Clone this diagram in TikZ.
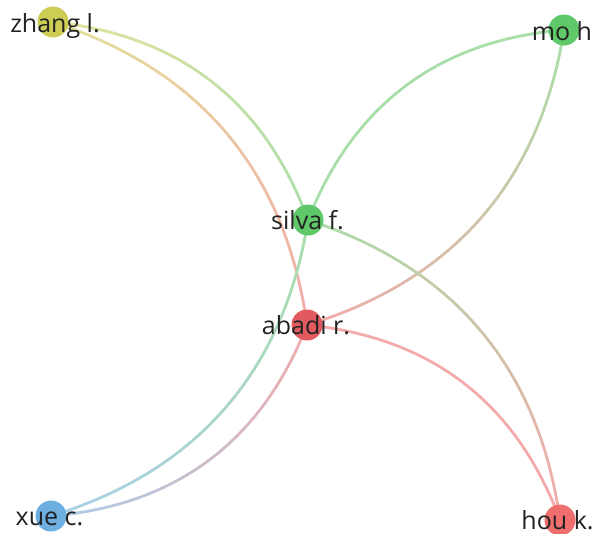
\documentclass[tikz,border=0pt]{standalone}
\usepackage{fontspec}
\setmainfont{Open Sans}
\usetikzlibrary{decorations.markings,backgrounds}
\definecolor{cYel}{HTML}{CDCD55}
\definecolor{cGrn}{HTML}{5FC869}
\definecolor{cRed}{HTML}{E05A60}
\definecolor{cRed2}{HTML}{F06E6E}
\definecolor{cBlu}{HTML}{6EAFE1}
\definecolor{eYel}{HTML}{E2E29C}
\definecolor{eGrn}{HTML}{A8DFA8}
\definecolor{eRed}{HTML}{F4AAAA}
\definecolor{eBlu}{HTML}{A8CFEB}
\definecolor{txt}{HTML}{222222}
\colorlet{gA}{eGrn}
\colorlet{gB}{eGrn}
\tikzset{
  ball/.style={circle, inner sep=0pt, minimum size=31pt, draw=none, fill=#1},
  lab/.style={anchor=base, inner sep=0pt, font=\fontsize{25}{29}\selectfont, text=txt},
  gradmarks/.style={decorate, decoration={markings,
    mark=between positions 0 and 1 step 0.8pt with {
      \pgfmathsetmacro\gpct{min(100,max(0,(\pgfkeysvalueof{/pgf/decoration/mark info/distance from start}/\pgfdecoratedpathlength)*100))}
      \colorlet{gcol}{gB!\gpct!gA}
      \draw[line width=2.6pt, gcol] (-0.6pt,0) -- (0.6pt,0);
    }}},
  grad/.style 2 args={/utils/exec={\colorlet{gA}{#1}\colorlet{gB}{#2}}, gradmarks},
  arcb/.style={bend left=32},
}
\begin{document}
\begin{tikzpicture}[x=1pt,y=1pt]
\useasboundingbox (0,0) rectangle (593,-533);
% circles
\node[ball=cYel] (zhang) at (53,-22) {};
\node[ball=cGrn] (mo) at (564,-30) {};
\node[ball=cGrn] (silva) at (308,-220) {};
\node[ball=cRed] (abadi) at (307,-325) {};
\node[ball=cBlu] (xue) at (51,-516) {};
\node[ball=cRed2] (hou) at (560,-520) {};
% edges
\begin{scope}[on background layer]
\fill[white] (0,0) rectangle (593,-533);
\path[grad={eYel}{eGrn}] (zhang.center) to[arcb] (silva.center);
\path[grad={eYel}{eRed}] (zhang.center) to[arcb] (abadi.center);
\path[grad={eGrn}{eGrn}] (silva.center) to[arcb] (mo.center);
\path[grad={eGrn}{eRed}] (mo.center) to[arcb] (abadi.center);
\path[grad={eGrn}{eRed}] (silva.center) to[arcb] (hou.center);
\path[grad={eRed}{eRed}] (abadi.center) to[arcb] (hou.center);
\path[grad={eGrn}{eBlu}] (silva.center) to[arcb] (xue.center);
\path[grad={eRed}{eBlu}] (abadi.center) to[arcb] (xue.center);
\end{scope}
% labels (baseline about 10pt below circle centre)
\node[lab] (zhangL) at (55,-32) {zhang l.};
\node[lab] (moL) at (562,-40) {mo h};
\node[lab] (silvaL) at (307.5,-229) {silva f.};
\node[lab] (abadiL) at (306,-334) {abadi r.};
\node[lab] (xueL) at (49.5,-525) {xue c.};
\node[lab] (houL) at (557.5,-529) {hou k.};
\end{tikzpicture}
\end{document}
